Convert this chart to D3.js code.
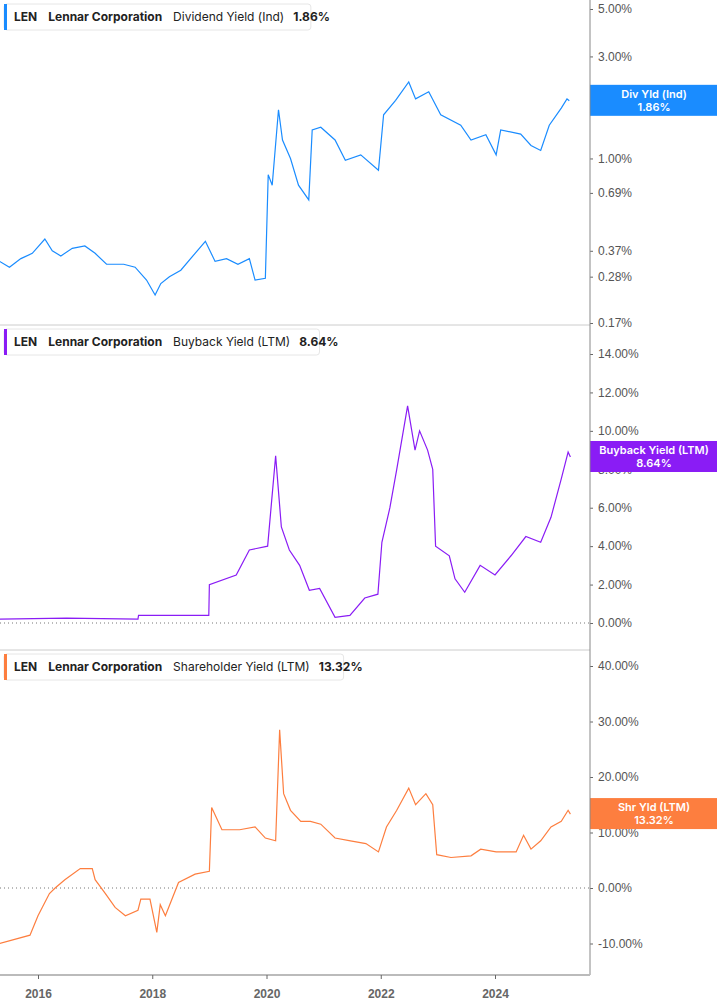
<!DOCTYPE html>
<html><head><meta charset="utf-8">
<script src="https://cdn.jsdelivr.net/npm/d3@7"></script>
<style>body{margin:0;background:#fff;font-family:Inter,"Noto Sans",sans-serif}</style>
</head><body><svg id="c" width="717" height="1005"></svg>
<script>
// [year, value] pairs
var divYield = [[2015.33,0.33],[2015.5,0.31],[2015.7,0.34],[2015.9,0.36],[2016.12,0.42],[2016.25,0.37],[2016.4,0.35],[2016.6,0.38],[2016.82,0.39],[2017.0,0.36],[2017.2,0.32],[2017.5,0.32],[2017.7,0.31],[2017.9,0.27],[2018.05,0.23],[2018.15,0.26],[2018.3,0.28],[2018.5,0.30],[2018.75,0.36],[2018.93,0.41],[2019.1,0.33],[2019.3,0.34],[2019.5,0.32],[2019.7,0.34],[2019.8,0.27],[2019.98,0.275],[2020.03,0.84],[2020.1,0.75],[2020.21,1.69],[2020.28,1.22],[2020.42,1.0],[2020.56,0.75],[2020.74,0.64],[2020.8,1.36],[2020.95,1.4],[2021.2,1.22],[2021.38,0.98],[2021.65,1.04],[2021.96,0.88],[2022.05,1.6],[2022.26,1.87],[2022.49,2.28],[2022.61,1.9],[2022.84,2.05],[2023.05,1.6],[2023.4,1.43],[2023.58,1.22],[2023.84,1.29],[2024.02,1.04],[2024.1,1.36],[2024.45,1.3],[2024.63,1.15],[2024.8,1.09],[2024.95,1.43],[2025.16,1.72],[2025.26,1.9],[2025.3,1.86]];
var buyback = [[2015.33,0.2],[2016.5,0.25],[2017.75,0.2],[2017.76,0.4],[2018.99,0.4],[2019.0,2.0],[2019.47,2.5],[2019.7,3.8],[2020.02,4.0],[2020.16,8.7],[2020.26,5.0],[2020.4,3.8],[2020.58,3.0],[2020.75,1.7],[2020.93,1.8],[2021.2,0.3],[2021.46,0.4],[2021.72,1.3],[2021.95,1.5],[2022.02,4.2],[2022.16,6.0],[2022.28,8.0],[2022.47,11.3],[2022.6,9.0],[2022.68,10.0],[2022.82,9.0],[2022.91,8.0],[2022.96,4.0],[2023.2,3.5],[2023.3,2.3],[2023.47,1.6],[2023.74,3.0],[2024.0,2.5],[2024.28,3.5],[2024.54,4.5],[2024.8,4.2],[2024.98,5.5],[2025.16,7.5],[2025.28,8.9],[2025.32,8.64]];
var shareholder = [[2015.33,-10],[2015.86,-8.5],[2016.0,-5],[2016.2,-1],[2016.3,0],[2016.47,1.5],[2016.74,3.5],[2016.95,3.5],[2017.0,1.5],[2017.18,-1],[2017.35,-3.5],[2017.53,-5],[2017.75,-4],[2017.8,-2],[2017.96,-2],[2018.08,-8],[2018.14,-3],[2018.23,-5],[2018.46,1],[2018.75,2.5],[2019.0,3],[2019.04,14.5],[2019.22,10.5],[2019.53,10.5],[2019.8,11],[2019.98,9],[2020.16,8.5],[2020.23,28.5],[2020.3,17],[2020.42,14],[2020.6,12],[2020.77,12],[2020.95,11.5],[2021.2,9],[2021.47,8.5],[2021.74,8],[2021.96,6.5],[2022.1,11],[2022.28,14],[2022.49,18],[2022.61,15],[2022.79,17],[2022.91,15],[2022.98,6],[2023.23,5.5],[2023.58,5.8],[2023.75,7],[2024.02,6.5],[2024.37,6.5],[2024.5,9.5],[2024.63,7],[2024.8,8.5],[2024.98,11],[2025.16,12],[2025.28,14],[2025.32,13.32]];
var divTicks = [5, 3, 2, 1, 0.69, 0.37, 0.28, 0.17];
var buyTicks = [0, 2, 4, 6, 8, 10, 12, 14];
var shrTicks = [-10, 0, 10, 20, 30, 40];
var years = [2016, 2018, 2020, 2022, 2024];

var svg = d3.select("#c");
var axisX = 590;
var x = d3.scaleLinear().domain([2016, 2024]).range([38, 495]);

var panels = [
  {data: divYield, ticks: divTicks, y: d3.scaleLog().domain([0.17, 5]).range([323, 9]), top: 0, bot: 325,
   color: "#1a8cff", title: "Dividend Yield (Ind)", val: "1.86%", tag: "Div Yld (Ind)", zero: false},
  {data: buyback, ticks: buyTicks, y: d3.scaleLinear().domain([0, 14]).range([623, 354]), top: 325, bot: 650,
   color: "#8a1cf5", title: "Buyback Yield (LTM)", val: "8.64%", tag: "Buyback Yield (LTM)", zero: true},
  {data: shareholder, ticks: shrTicks, y: d3.scaleLinear().domain([0, 40]).range([888, 666]), top: 650, bot: 975,
   color: "#fd7e3f", title: "Shareholder Yield (LTM)", val: "13.32%", tag: "Shr Yld (LTM)", zero: true}
];

panels.forEach(function (p) {
    var g = svg.append("g");
    if (p.zero) {
        g.append("line").attr("x1", 0).attr("x2", axisX).attr("y1", p.y(0)).attr("y2", p.y(0))
            .attr("stroke", "#777").attr("stroke-dasharray", "1,3");
    }
    g.append("path").datum(p.data)
        .attr("d", d3.line().x(function (d) { return x(d[0]); }).y(function (d) { return p.y(d[1]); }))
        .attr("fill", "none").attr("stroke", p.color).attr("stroke-width", 1.2);
    // right axis labels
    var ax = d3.axisRight(p.y).tickValues(p.ticks).tickSize(3)
        .tickFormat(function (d) { return d.toFixed(2) + "%"; });
    var a = g.append("g").attr("transform", "translate(" + axisX + ",0)").call(ax);
    a.select(".domain").remove();
    a.selectAll("text").attr("fill", "#555").attr("font-size", 12).attr("x", 8);
    a.selectAll("line").attr("stroke", "#666");
    g.append("line").attr("x1", 0).attr("x2", axisX).attr("y1", p.bot).attr("y2", p.bot)
        .attr("stroke", "#ccc");
    // legend box
    var lg = g.append("g").attr("transform", "translate(4," + (p.top + 4) + ")");
    var lt = lg.append("text").attr("x", 10).attr("y", 17).attr("font-size", 12).attr("fill", "#222");
    lt.append("tspan").attr("font-weight", "bold").text("LEN");
    lt.append("tspan").attr("dx", 11).attr("font-weight", "bold").text("Lennar Corporation");
    lt.append("tspan").attr("dx", 11).text(p.title);
    lt.append("tspan").attr("dx", 9).attr("font-weight", "bold").text(p.val);
    var w = lt.node().getComputedTextLength() + 22;
    lg.insert("rect", "text").attr("width", w).attr("height", 26).attr("rx", 3)
        .attr("fill", "#fff").attr("stroke", "#e6e6e6");
    lg.insert("rect", "text").attr("width", 3).attr("height", 26).attr("fill", p.color);
    // value tag
    var last = p.data[p.data.length - 1];
    var ty = p.y(last[1]);
    g.append("rect").attr("x", axisX).attr("y", ty - 16).attr("width", 717 - axisX).attr("height", 31)
        .attr("fill", p.color);
    g.append("text").attr("x", 654).attr("y", ty - 3).attr("text-anchor", "middle")
        .attr("fill", "#fff").attr("font-size", 11).attr("font-weight", 600).text(p.tag);
    g.append("text").attr("x", 654).attr("y", ty + 10).attr("text-anchor", "middle")
        .attr("fill", "#fff").attr("font-size", 11).attr("font-weight", 600).text(p.val);
});

svg.append("line").attr("x1", axisX).attr("x2", axisX).attr("y1", 0).attr("y2", 975)
    .attr("stroke", "#888");
svg.append("line").attr("x1", 0).attr("x2", axisX).attr("y1", 975).attr("y2", 975)
    .attr("stroke", "#bbb").attr("stroke-width", 2);
var xa = svg.append("g").attr("transform", "translate(0,975)")
    .call(d3.axisBottom(x).tickValues(years).tickSize(4).tickFormat(d3.format("d")));
xa.select(".domain").remove();
xa.selectAll("line").attr("stroke", "#666");
xa.selectAll("text").attr("fill", "#666").attr("font-size", 12).attr("font-weight", "bold").attr("dy", "1.3em");
</script></body></html>
